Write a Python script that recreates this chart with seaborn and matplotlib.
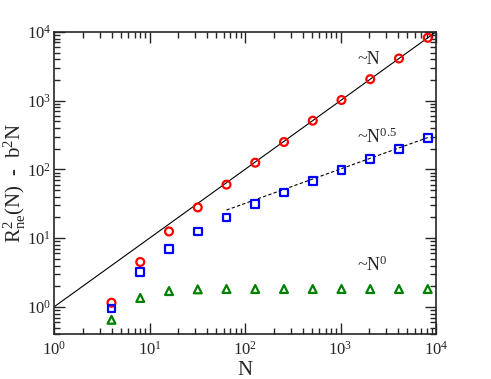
import matplotlib

matplotlib.use("Agg")

import matplotlib.pyplot as plt  # noqa: E402
import numpy as np  # noqa: E402
import pandas as pd  # noqa: E402
import seaborn as sns  # noqa: E402
from matplotlib.ticker import LogLocator  # noqa: E402

# data
n_vals = [4, 8, 16, 32, 64, 128, 256, 512, 1024, 2048, 4096, 8192]
r_linear = [1.15, 4.5, 12.5, 28, 60, 125, 250, 510, 1020, 2050, 4100, 8200]
r_sqrt = [0.95, 3.2, 7.0, 12.5, 20, 31, 46, 67, 98, 142, 200, 290]
r_const = [0.65, 1.35, 1.7, 1.8, 1.82, 1.82, 1.82, 1.82, 1.82, 1.82, 1.82, 1.82]

fit_lin_x = [1, 10000]
fit_lin_y = [1, 10000]
fit_sqrt_x = [64, 8192]
fit_sqrt_y = [25.6, 290]

sns.set_style("ticks")
plt.rcParams["font.family"] = ["Liberation Serif", "DejaVu Serif"]
plt.rcParams["mathtext.fontset"] = "custom"
plt.rcParams["mathtext.rm"] = "Liberation Serif"
plt.rcParams["mathtext.it"] = "Liberation Serif"

df = pd.DataFrame({"N": n_vals, "lin": r_linear, "sq": r_sqrt, "c": r_const})

fig, ax = plt.subplots(figsize=(4.91, 3.79), dpi=100)
fig.subplots_adjust(left=0.11, right=0.888, top=0.916, bottom=0.118)

sns.lineplot(x=fit_lin_x, y=fit_lin_y, ax=ax, color="black", lw=0.8)
sns.lineplot(x=fit_sqrt_x, y=fit_sqrt_y, ax=ax, color="black", lw=0.8,
             linestyle=(0, (3, 2)))

mk = dict(s=32, facecolor="none", linewidth=1.6, zorder=5, clip_on=False)
sns.scatterplot(data=df, x="N", y="lin", ax=ax, marker="o", edgecolor="red", **mk)
sns.scatterplot(data=df, x="N", y="sq", ax=ax, marker="s", edgecolor="blue", **mk)
sns.scatterplot(data=df, x="N", y="c", ax=ax, marker="^", edgecolor="green", **mk)

ax.set_xscale("log")
ax.set_yscale("log")
ax.set_xlim(1, 1e4)
ax.set_ylim(0.4, 1e4)

ax.xaxis.set_major_locator(LogLocator(base=10, numticks=10))
ax.yaxis.set_major_locator(LogLocator(base=10, numticks=10))
ax.xaxis.set_minor_locator(LogLocator(base=10, subs=np.arange(2, 10), numticks=20))
ax.yaxis.set_minor_locator(LogLocator(base=10, subs=np.arange(2, 10), numticks=20))

ax.tick_params(which="both", direction="in", top=True, right=True, width=1)
ax.tick_params(which="major", length=8, labelsize=12)
ax.tick_params(axis="y", which="major", pad=2)
ax.tick_params(axis="x", which="major", pad=5)
ax.tick_params(which="minor", length=4)
for s in ax.spines.values():
    s.set_linewidth(1.2)

ax.set_xlabel("N", fontsize=15, labelpad=1)
ax.set_ylabel(r"R$^2_{ne}$(N)  -  b$^2$N", fontsize=15)
ax.yaxis.set_label_coords(-0.068, 0.5)

ax.text(1500, 4000, "~N", fontsize=13, ha="left", va="center")
ax.text(1500, 290, r"~N$^{0.5}$", fontsize=13, ha="left", va="center")
ax.text(1500, 4.0, r"~N$^{0}$", fontsize=13, ha="left", va="center")

fig.savefig("out.png", dpi=100)
